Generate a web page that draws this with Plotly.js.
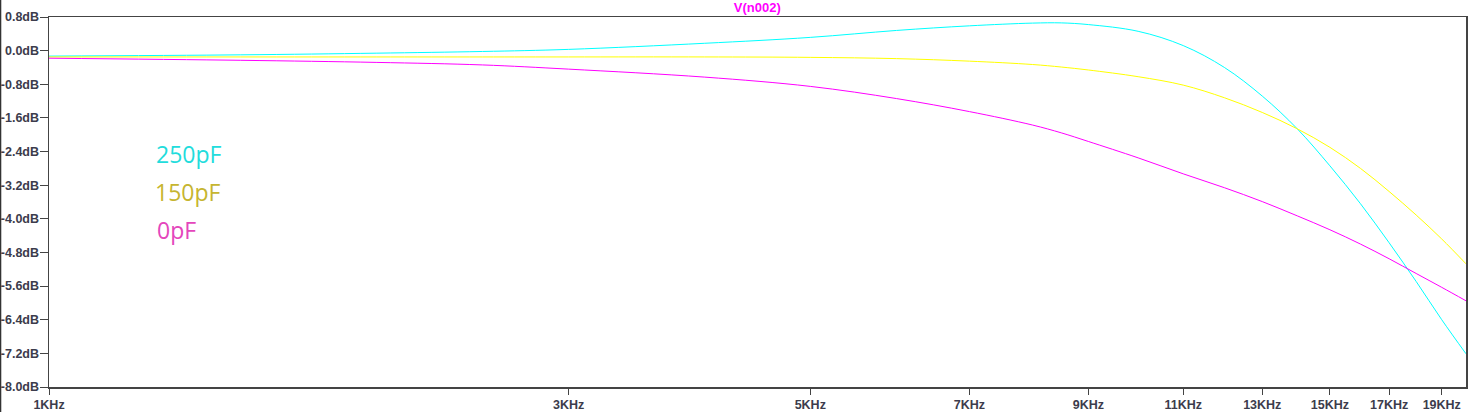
<!DOCTYPE html>
<html>
<head>
<meta charset="utf-8">
<script src="https://cdn.plot.ly/plotly-3.0.1.min.js"></script>
<style>
html,body{margin:0;padding:0;background:#fff;}
#chart{width:1480px;height:412px;}
</style>
</head>
<body>
<div id="chart"></div>
<script>
// Frequencies in Hz
const freq = [1000,1500,2000,2500,3000,4000,5000,6000,7000,8000,8500,9000,10000,11000,12000,13000,14000,15000,16000,17000,18000,19000,20000];
// Gain in dB
const c250pF = [-0.13,-0.10,-0.06,-0.02,0.03,0.175,0.315,0.48,0.59,0.655,0.66,0.62,0.46,0.12,-0.40,-1.08,-1.86,-2.74,-3.64,-4.57,-5.49,-6.40,-7.21];
const c150pF = [-0.15,-0.15,-0.15,-0.15,-0.15,-0.15,-0.16,-0.19,-0.25,-0.33,-0.39,-0.46,-0.62,-0.82,-1.12,-1.47,-1.86,-2.30,-2.80,-3.35,-3.91,-4.48,-5.07];
const c0pF   = [-0.18,-0.23,-0.28,-0.34,-0.44,-0.63,-0.85,-1.14,-1.45,-1.77,-1.955,-2.16,-2.55,-2.93,-3.26,-3.59,-3.93,-4.26,-4.60,-4.95,-5.30,-5.63,-5.95];

const seriesNames = ["250pF","150pF","0pF"];
const lineColors = ["#00ffff","#ffff00","#ff00ff"];
const labelColors = ["#22dcdc","#c6b530","#e446bc"];

const xTickVals = [1000,3000,5000,7000,9000,11000,13000,15000,17000,19000];
const xTickText = ["1KHz","3KHz","5KHz","7KHz","9KHz","11KHz","13KHz","15KHz","17KHz","19KHz"];
const yTickVals = [0.8,0.0,-0.8,-1.6,-2.4,-3.2,-4.0,-4.8,-5.6,-6.4,-7.2,-8.0];
const yTickText = ["0.8dB","0.0dB","-0.8dB","-1.6dB","-2.4dB","-3.2dB","-4.0dB","-4.8dB","-5.6dB","-6.4dB","-7.2dB","-8.0dB"];

const allY = [c250pF, c150pF, c0pF];
const traces = allY.map((y,i)=>({
  x: freq, y: y, type:'scatter', mode:'lines', name: seriesNames[i],
  line:{color: lineColors[i], width:1, shape:'spline', smoothing:1},
  hoverinfo:'skip'
}));

const tickFont = {family:'"Liberation Sans", Arial, sans-serif', size:12.5, color:'#3c3c4c', weight:'bold'};

const labelPos = [[0.0741,0.631],[0.0734,0.5265],[0.0748,0.4243]];
const annotations = seriesNames.map((n,i)=>({
  text:n, xref:'paper', yref:'paper', x:labelPos[i][0], y:labelPos[i][1],
  xanchor:'left', yanchor:'middle', showarrow:false,
  font:{family:'"Open Sans", sans-serif', size:23, color:labelColors[i]}
}));

const layout = {
  width:1480, height:412,
  margin:{l:49, r:14, t:17, b:25, pad:0},
  paper_bgcolor:'#ffffff', plot_bgcolor:'#ffffff',
  showlegend:false,
  title:{text:'V(n002)', x:0.5117, xanchor:'center', y:0.982, yanchor:'middle', yref:'container',
         font:{family:'"Liberation Sans", Arial, sans-serif', size:13, color:'#ff00ff', weight:'bold'}},
  xaxis:{type:'log', range:[3, Math.log10(20000)], tickmode:'array', tickvals:xTickVals, ticktext:xTickText,
         showgrid:false, zeroline:false, showline:true, mirror:true, linecolor:'#444444', linewidth:1.5,
         ticks:'outside', ticklen:6, tickcolor:'#444444', tickwidth:1, tickfont:tickFont, ticklabelstandoff:-1},
  yaxis:{range:[-8.0, 0.8], tickmode:'array', tickvals:yTickVals, ticktext:yTickText,
         showgrid:false, zeroline:false, showline:true, mirror:true, linecolor:'#444444', linewidth:1.5,
         ticks:'outside', ticklen:8, tickcolor:'#444444', tickwidth:1, tickfont:tickFont, ticklabelstandoff:-2},
  annotations: annotations,
  shapes:[{type:'line', xref:'paper', yref:'paper', x0:-0.0342, x1:-0.0342, y0:-0.07, y1:1.05,
           line:{color:'#333333', width:1.5}}]
};

Plotly.newPlot('chart', traces, layout, {staticPlot:true, displayModeBar:false});
</script>
</body>
</html>
